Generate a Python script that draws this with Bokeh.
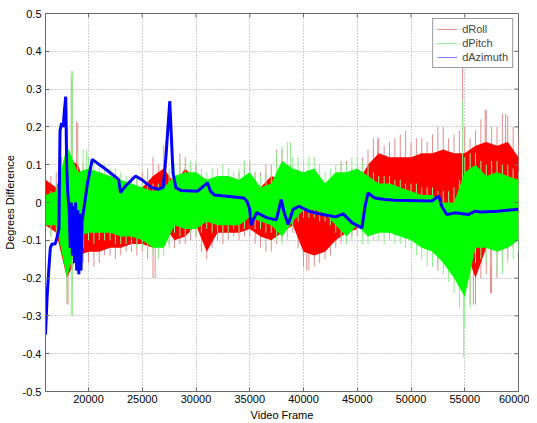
import math
from bokeh.plotting import figure
from bokeh.models import Range1d, FixedTicker, Legend, LegendItem, ColumnDataSource
from bokeh.embed import file_html
from bokeh.resources import INLINE

# ---------------- data ----------------
frames = list(range(16000, 60001, 1000))          # envelope of the dense core
frames_fine = list(range(16000, 60001, 500))      # local extremes (thin spikes)

roll_core_hi = [0.06, 0.04, 0.12, 0.10, 0.03, 0.03, 0.03, 0.03, 0.03, 0.04,
                0.07, 0.09, 0.05, 0.09, 0.06, 0.02, 0.03, 0.03, 0.04, 0.06,
                0.04, 0.07, 0.06, 0.04, 0.00, 0.00, 0.00, 0.02, 0.07, 0.05,
                0.10, 0.13, 0.12, 0.12, 0.12, 0.13, 0.13, 0.14, 0.13, 0.13,
                0.15, 0.16, 0.15, 0.16, 0.12]
roll_core_lo = [-0.06, -0.08, -0.20, -0.14, -0.13, -0.13, -0.12, -0.12, -0.11, -0.11,
                -0.12, -0.06, -0.10, -0.09, -0.06, -0.13, -0.08, -0.08, -0.08, -0.07,
                -0.09, -0.10, -0.08, -0.06, -0.13, -0.14, -0.13, -0.10, -0.08, -0.07,
                -0.04, -0.04, -0.03, -0.03, -0.04, -0.05, -0.07, -0.10, -0.10, -0.12,
                -0.20, -0.12, -0.12, -0.10, -0.06]
roll_peak_hi = [0.09, 0.07, 0.08, 0.12, 0.20, 0.33, 0.21, 0.10, 0.06, 0.07,
                0.06, 0.05, 0.05, 0.06, 0.05, 0.05, 0.06, 0.07, 0.08, 0.09,
                0.12, 0.10, 0.15, 0.08, 0.10, 0.13, 0.12, 0.10, 0.10, 0.07,
                0.06, 0.05, 0.05, 0.04, 0.06, 0.07, 0.08, 0.11, 0.11, 0.08,
                0.08, 0.10, 0.10, 0.14, 0.14, 0.09, 0.08, 0.05, 0.03, 0.02,
                0.03, 0.04, 0.04, 0.05, 0.06, 0.11, 0.11, 0.09, 0.09, 0.12,
                0.14, 0.17, 0.17, 0.15, 0.16, 0.17, 0.18, 0.19, 0.16, 0.17,
                0.17, 0.16, 0.18, 0.20, 0.20, 0.17, 0.18, 0.19, 0.20, 0.17,
                0.19, 0.22, 0.245, 0.20, 0.20, 0.235, 0.23, 0.20, 0.18]
roll_peak_lo = [-0.12, -0.09, -0.10, -0.12, -0.27, -0.22, -0.17, -0.16, -0.16, -0.17,
                -0.16, -0.14, -0.14, -0.15, -0.14, -0.13, -0.13, -0.14, -0.13, -0.15,
                -0.20, -0.13, -0.10, -0.11, -0.12, -0.11, -0.11, -0.10, -0.09, -0.13,
                -0.15, -0.12, -0.10, -0.11, -0.10, -0.09, -0.10, -0.09, -0.09, -0.11,
                -0.12, -0.13, -0.13, -0.11, -0.10, -0.09, -0.08, -0.12, -0.17, -0.18,
                -0.17, -0.16, -0.15, -0.14, -0.12, -0.11, -0.10, -0.09, -0.09, -0.07,
                -0.06, -0.06, -0.06, -0.05, -0.05, -0.06, -0.05, -0.06, -0.06, -0.07,
                -0.08, -0.10, -0.15, -0.18, -0.15, -0.14, -0.14, -0.15, -0.17, -0.27,
                -0.27, -0.20, -0.19, -0.24, -0.20, -0.16, -0.15, -0.12, -0.10]

pitch_core_hi = [0.02, 0.03, 0.15, 0.08, 0.09, 0.08, 0.07, 0.06, 0.05, 0.04,
                 0.03, 0.04, 0.07, 0.08, 0.08, 0.06, 0.07, 0.07, 0.06, 0.08,
                 0.04, 0.05, 0.11, 0.09, 0.08, 0.09, 0.05, 0.08, 0.08, 0.09,
                 0.07, 0.05, 0.05, 0.04, 0.03, 0.02, 0.02, 0.00, 0.00, 0.08,
                 0.10, 0.07, 0.08, 0.07, 0.06]
pitch_core_lo = [-0.06, -0.06, -0.20, -0.09, -0.08, -0.08, -0.08, -0.09, -0.09, -0.10,
                 -0.12, -0.12, -0.06, -0.07, -0.07, -0.05, -0.06, -0.06, -0.06, -0.04,
                 -0.05, -0.06, -0.09, -0.05, -0.02, -0.02, -0.03, -0.06, -0.09, -0.06,
                 -0.09, -0.08, -0.08, -0.09, -0.10, -0.12, -0.13, -0.16, -0.20, -0.25,
                 -0.12, -0.12, -0.13, -0.12, -0.10]
pitch_peak_hi = [0.04, 0.03, 0.05, 0.10, 0.25, 0.348, 0.14, 0.14, 0.12, 0.11,
                 0.10, 0.10, 0.09, 0.09, 0.08, 0.07, 0.07, 0.07, 0.06, 0.06,
                 0.05, 0.05, 0.07, 0.09, 0.10, 0.11, 0.10, 0.11, 0.11, 0.09,
                 0.08, 0.09, 0.09, 0.10, 0.09, 0.08, 0.09, 0.11, 0.11, 0.08,
                 0.07, 0.08, 0.08, 0.13, 0.15, 0.16, 0.12, 0.12, 0.11, 0.12,
                 0.12, 0.10, 0.08, 0.09, 0.10, 0.11, 0.10, 0.12, 0.12, 0.11,
                 0.10, 0.08, 0.07, 0.07, 0.07, 0.06, 0.06, 0.05, 0.05, 0.05,
                 0.04, 0.04, 0.04, 0.03, 0.03, 0.03, 0.04, 0.06, 0.12, 0.13,
                 0.13, 0.11, 0.10, 0.11, 0.11, 0.10, 0.10, 0.09, 0.08]
pitch_peak_lo = [-0.08, -0.09, -0.08, -0.10, -0.26, -0.30, -0.13, -0.12, -0.10, -0.11,
                 -0.10, -0.10, -0.10, -0.11, -0.11, -0.11, -0.12, -0.12, -0.12, -0.13,
                 -0.14, -0.15, -0.14, -0.12, -0.08, -0.09, -0.09, -0.08, -0.09, -0.08,
                 -0.07, -0.08, -0.08, -0.08, -0.08, -0.07, -0.08, -0.07, -0.06, -0.07,
                 -0.07, -0.08, -0.08, -0.10, -0.11, -0.10, -0.07, -0.05, -0.04, -0.04,
                 -0.04, -0.05, -0.05, -0.06, -0.08, -0.10, -0.11, -0.10, -0.08, -0.11,
                 -0.11, -0.10, -0.10, -0.11, -0.10, -0.11, -0.11, -0.12, -0.12, -0.14,
                 -0.15, -0.17, -0.17, -0.16, -0.19, -0.21, -0.24, -0.28, -0.33, -0.28,
                 -0.16, -0.15, -0.16, -0.17, -0.19, -0.19, -0.16, -0.15, -0.13]

roll_spike_x = [18100, 18400, 18900, 26200, 27200, 40300, 46900, 54800, 56900, 58800, 57400, 55800]
roll_spike_y = [-0.27, 0.33, 0.215, -0.20, 0.16, -0.18, 0.17, 0.37, 0.245, 0.235, -0.24, -0.27]
pitch_spike_x = [18400, 18400, 54900, 54800, 38800, 19800]
pitch_spike_y = [0.348, -0.30, -0.41, 0.27, 0.16, 0.14]

azimuth_x = [16000, 16150, 16300, 16450, 16600, 16900, 17100, 17250, 17350, 17500,
             17650, 17750, 17880, 17970, 18060, 18200, 18300, 18400, 18500, 18600,
             18700, 18800, 18900, 19000, 19100, 19200, 19300, 19400, 19650, 19900,
             20350, 21600, 22800, 22980,
             23450, 24380, 24930, 25840, 26480, 26950, 27200, 27560, 27860, 28130,
             28600, 30150, 31060, 31340, 31700, 34450, 34730, 35000, 35100, 35640,
             36560, 37470, 37930, 38200, 38570, 39030, 39580, 40500, 41780, 42970,
             43700, 44530, 45440, 45720, 46000, 46630, 47550, 48460, 51950, 52580,
             52860, 53320, 54130, 55320, 55960, 56500, 58050, 60000]
azimuth_y = [-0.35, -0.25, -0.18, -0.12, -0.11, -0.11, -0.09, -0.07, 0.19, 0.21,
             0.20, 0.24, 0.28, 0.10, 0.03, -0.02, -0.12, 0.00, -0.14, -0.01,
             -0.16, 0.00, -0.18, -0.02, -0.19, -0.03, -0.18, -0.05, 0.00, 0.05,
             0.114, 0.088, 0.061, 0.026,
             0.044, 0.070, 0.061, 0.040, 0.035, 0.040, 0.12, 0.268, 0.078, 0.039,
             0.032, 0.030, 0.052, 0.030, 0.020, 0.012, 0.004, -0.018, -0.06, -0.027,
             -0.040, -0.046, 0.008, -0.027, -0.058, -0.018, -0.010, -0.023, -0.032, -0.038,
             -0.030, -0.054, -0.067, -0.010, 0.025, 0.012, 0.008, 0.006, 0.004, 0.017,
             -0.010, -0.032, -0.027, -0.032, -0.023, -0.025, -0.023, -0.018]

series_names = ["dRoll", "dPitch", "dAzimuth"]
x_ticks = [20000, 25000, 30000, 35000, 40000, 45000, 50000, 55000, 60000]
y_ticks = [-0.5, -0.4, -0.3, -0.2, -0.1, 0, 0.1, 0.2, 0.3, 0.4, 0.5]
y_tick_labels = ["-0.5", "-0.4", "-0.3", "-0.2", "-0.1", "0", "0.1", "0.2", "0.3", "0.4", "0.5"]
x_min, x_max, y_min, y_max = 16000, 60000, -0.5, 0.5

# ---------------- figure ----------------
FONT = "Liberation Sans"
p = figure(width=529, height=423, output_backend="svg", toolbar_location=None,
           x_range=Range1d(x_min, x_max), y_range=Range1d(y_min, y_max),
           min_border_left=36, min_border_top=13, min_border_right=11, min_border_bottom=31)
p.background_fill_color = "white"
p.border_fill_color = "white"
AX = "#6a6a6a"
p.outline_line_color = AX

for ax in (p.xaxis[0], p.yaxis[0]):
    ax.axis_line_color = AX
    ax.major_tick_line_color = AX
    ax.major_tick_in = 4
    ax.major_tick_out = 0
    ax.minor_tick_line_color = None
    ax.major_label_text_font = FONT
    ax.major_label_text_font_size = "11px"
    ax.major_label_text_color = "black"
    ax.axis_label_text_font = FONT
    ax.axis_label_text_font_size = "11px"
    ax.axis_label_text_font_style = "normal"
    ax.axis_label_text_color = "black"
p.xaxis[0].major_label_standoff = 3
p.xaxis[0].axis_label_standoff = 3
p.yaxis[0].major_label_standoff = 4
p.yaxis[0].axis_label_standoff = 4

p.xaxis[0].ticker = FixedTicker(ticks=x_ticks)
p.yaxis[0].ticker = FixedTicker(ticks=y_ticks)
p.yaxis[0].major_label_overrides = {t: l for t, l in zip(y_ticks, y_tick_labels)}
p.xaxis[0].axis_label = "Video Frame"
p.yaxis[0].axis_label = "Degrees Difference"

p.xgrid.ticker = FixedTicker(ticks=x_ticks)
p.ygrid.ticker = FixedTicker(ticks=y_ticks)
for g in (p.xgrid[0], p.ygrid[0]):
    g.grid_line_color = "#a0a0a0"
    g.grid_line_dash = "1 2"
    g.grid_line_width = 1

# ---------------- data marks ----------------
RED, RED_PALE = "#ff0000", "#e08c8c"
GRN, GRN_PALE = "#00ff00", "#8cee8c"
BLU, BLU_PALE = "#0000ff", "#7c7ce6"

core = ColumnDataSource(dict(x=frames, rch=roll_core_hi, rcl=roll_core_lo,
                             gch=pitch_core_hi, gcl=pitch_core_lo))
fine = ColumnDataSource(dict(x=frames_fine, zero=[0] * len(frames_fine),
                             rph=roll_peak_hi, rpl=roll_peak_lo,
                             gph=pitch_peak_hi, gpl=pitch_peak_lo))

# roll (drawn first)
r_sp = p.segment(x0="x", y0="zero", x1="x", y1="rph", source=fine, line_color=RED_PALE, line_width=1)
p.segment(x0="x", y0="zero", x1="x", y1="rpl", source=fine, line_color=RED_PALE, line_width=1)
p.segment(x0=roll_spike_x, y0=[0] * len(roll_spike_x), x1=roll_spike_x, y1=roll_spike_y,
          line_color=RED_PALE, line_width=1)
p.varea(x="x", y1="rcl", y2="rch", source=core, fill_color=RED)
# pitch
g_sp = p.segment(x0="x", y0="zero", x1="x", y1="gph", source=fine, line_color=GRN_PALE, line_width=1)
p.segment(x0="x", y0="zero", x1="x", y1="gpl", source=fine, line_color=GRN_PALE, line_width=1)
p.segment(x0=pitch_spike_x, y0=[0] * len(pitch_spike_x), x1=pitch_spike_x, y1=pitch_spike_y,
          line_color=GRN_PALE, line_width=1)
p.varea(x="x", y1="gcl", y2="gch", source=core, fill_color=GRN)
# azimuth
b_thin = p.line(azimuth_x, azimuth_y, line_color=BLU_PALE, line_width=1)
p.line(azimuth_x, azimuth_y, line_color=BLU, line_width=3)

# inward ticks on top and right edges (no labels)
p.ray(x=x_ticks, y=[y_max] * len(x_ticks), length=4, length_units="screen",
      angle=-math.pi / 2, line_color=AX, line_width=1)
p.ray(x=[x_max] * len(y_ticks), y=y_ticks, length=4, length_units="screen",
      angle=math.pi, line_color=AX, line_width=1)

legend = Legend(items=[LegendItem(label=series_names[0], renderers=[r_sp]),
                       LegendItem(label=series_names[1], renderers=[g_sp]),
                       LegendItem(label=series_names[2], renderers=[b_thin])],
                location="top_right", margin=5, padding=4, spacing=2,
                label_height=12, glyph_height=12, glyph_width=20, label_standoff=5,
                label_text_font=FONT, label_text_font_size="11px",
                border_line_color="#333333", border_line_width=1,
                background_fill_color="white", background_fill_alpha=1)
p.add_layout(legend, "center")

open("out.html", "w").write(file_html(p, INLINE))
